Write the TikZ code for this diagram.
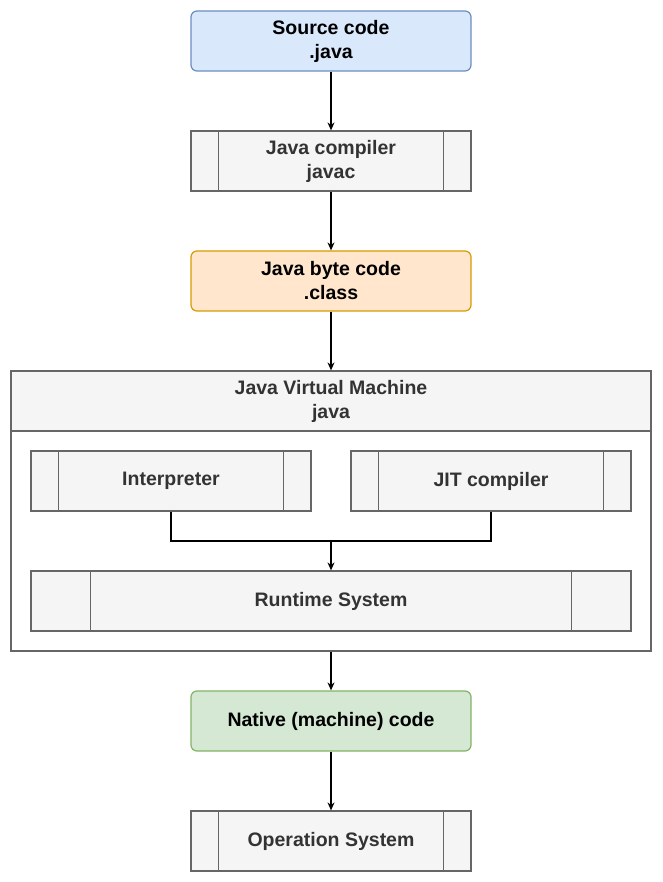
\documentclass[tikz,border=0pt]{standalone}
\usepackage{fontspec}
\setmainfont{Liberation Sans}
\usetikzlibrary{arrows.meta}
\definecolor{bluef}{HTML}{DAE8FC}\definecolor{blued}{HTML}{6C8EBF}
\definecolor{oraf}{HTML}{FFE6CC}\definecolor{orad}{HTML}{D79B00}
\definecolor{grnf}{HTML}{D5E8D4}\definecolor{grnd}{HTML}{82B366}
\definecolor{grf}{HTML}{F5F5F5}\definecolor{grd}{HTML}{666666}\definecolor{grt}{HTML}{333333}
\begin{document}
\begin{tikzpicture}[x=1pt,y=-1pt,
  box/.style={draw,line width=1.2pt,minimum height=60pt,align=center,font=\bfseries\fontsize{19.5}{24}\selectfont,inner sep=0pt},
  rbox/.style={box,rounded corners=6pt,minimum width=280pt},
  proc/.style={box,fill=grf,draw=grd,text=grt},
  arr/.style={line width=1.2pt,-{Stealth[length=8pt,width=7pt]}}]
\useasboundingbox (0,0) rectangle (662,882);
\node[rbox,fill=bluef,draw=blued] (src) at (331,41) {Source code\\.java};
\node[proc,minimum width=280pt] (jc) at (331,161) {Java compiler\\javac};
\node[rbox,fill=oraf,draw=orad] (bc) at (331,281) {Java byte code\\.class};
\node[box,draw=grd,minimum width=640pt,minimum height=280pt] (jvm) at (331,511) {};
\node[proc,minimum width=640pt] (jvmh) at (331,401) {Java Virtual Machine\\java};
\node[proc,minimum width=280pt] (int) at (171,481) {Interpreter};
\node[proc,minimum width=280pt] (jit) at (491,481) {JIT compiler};
\node[proc,minimum width=600pt] (rt) at (331,601) {Runtime System};
\node[rbox,fill=grnf,draw=grnd] (nat) at (331,721) {Native (machine) code};
\node[proc,minimum width=280pt] (os) at (331,841) {Operation System};
\foreach \n/\d in {jc/28,int/28,jit/28,rt/60,os/28}{
  \draw[grd,line width=1.2pt] ([xshift=\d]\n.north west) -- ([xshift=\d]\n.south west);
  \draw[grd,line width=1.2pt] ([xshift=-\d]\n.north east) -- ([xshift=-\d]\n.south east);}
\coordinate (j) at (331,541);
\draw[arr] (src) -- (jc);
\draw[arr] (jc) -- (bc);
\draw[arr] (bc) -- (jvmh);
\draw[line width=1.2pt] (int.south) |- (j) -| (jit.south);
\draw[arr] (j) -- (rt);
\draw[arr] (jvm) -- (nat);
\draw[arr] (nat) -- (os);
\end{tikzpicture}
\end{document}
